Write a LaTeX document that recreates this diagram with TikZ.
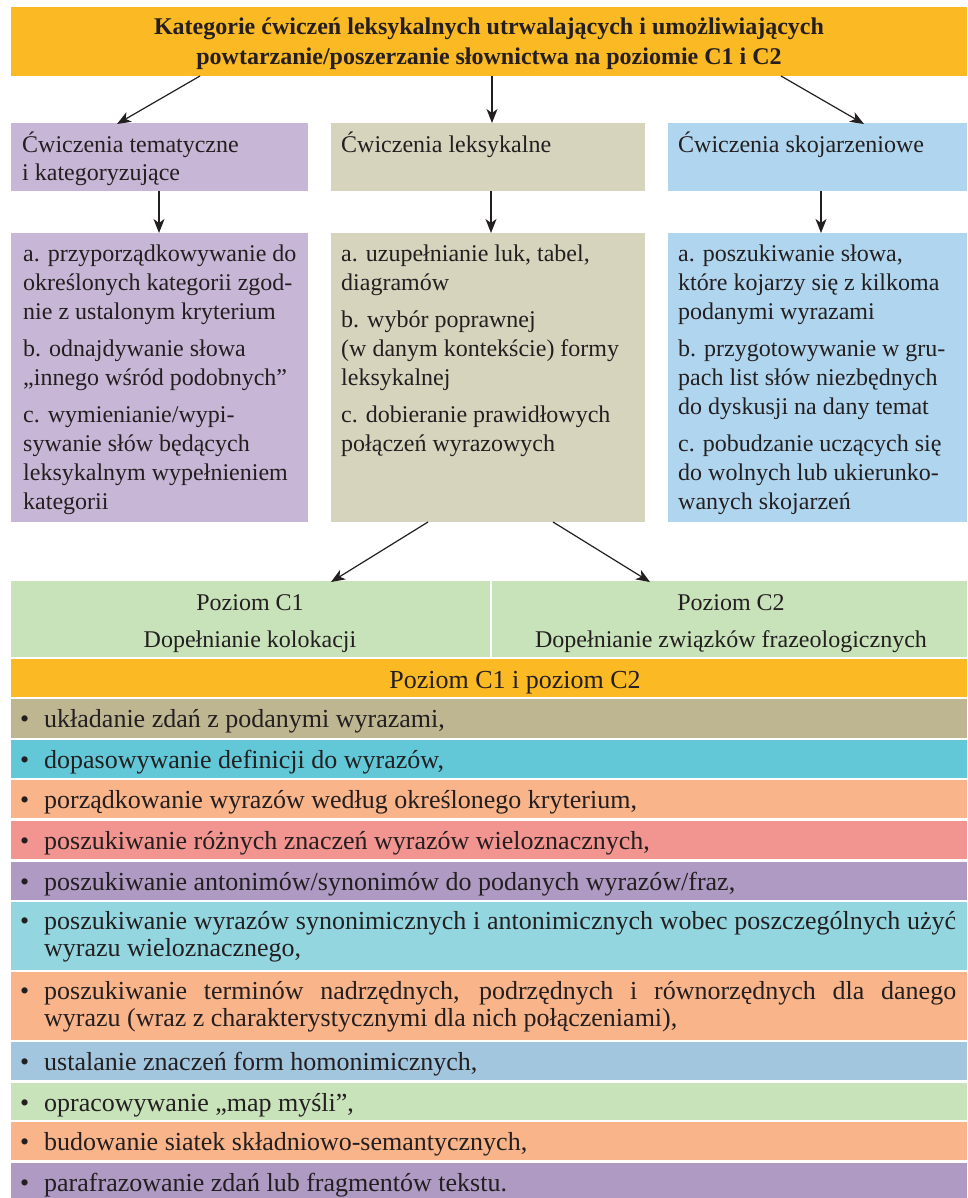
\documentclass[tikz,border=0pt]{standalone}
\usepackage{fontspec}
\setmainfont{Liberation Serif}
\usetikzlibrary{arrows.meta,calc}
\definecolor{orangeC}{RGB}{251,185,36}
\definecolor{lilacC}{RGB}{200,182,214}
\definecolor{khakiL}{RGB}{214,212,189}
\definecolor{skyC}{RGB}{176,213,238}
\definecolor{greenC}{RGB}{200,226,186}
\definecolor{khakiD}{RGB}{190,181,145}
\definecolor{cyanC}{RGB}{98,200,216}
\definecolor{peachC}{RGB}{249,180,138}
\definecolor{salmonC}{RGB}{242,148,144}
\definecolor{purpleC}{RGB}{175,154,195}
\definecolor{cyanL}{RGB}{148,214,224}
\definecolor{blueC}{RGB}{163,198,223}
\definecolor{inkC}{RGB}{35,31,32}
\begin{document}
\begin{tikzpicture}[x=1pt,y=-1pt,
  cell/.style={inner sep=0pt, outer sep=0pt, anchor=north west, draw=none},
  arr/.style={draw=inkC, line width=1.2pt, -{Stealth[length=14pt,width=11pt,inset=4pt]}},
  titletext/.style={inner sep=0pt, anchor=base, align=center, text=inkC, font=\bfseries\fontsize{24}{30}\selectfont},
  headtext/.style={inner sep=0pt, anchor=base west, align=left, text=inkC, font=\fontsize{24}{28}\selectfont},
  coltext/.style={inner sep=0pt, anchor=base west, align=left, text=inkC, font=\fontsize{24}{29}\selectfont},
  greentext/.style={inner sep=0pt, anchor=base, align=center, text=inkC, font=\fontsize{24}{37}\selectfont},
  rowtext/.style={inner sep=0pt, anchor=base west, align=left, text=inkC, font=\fontsize{26}{27.5}\selectfont},
]
\fill[white] (0,0) rectangle (967,1198);
\useasboundingbox (0,0) rectangle (967,1198);
% title (multi-line nodes are anchored at the baseline of their last line)
\node[cell, fill=orangeC, minimum width=956pt, minimum height=69pt] (top) at (11,7) {};
\node[titletext] (topt) at (489,65) {Kategorie ćwiczeń leksykalnych utrwalających i umożliwiających\\powtarzanie/poszerzanie słownictwa na poziomie C1 i C2};
% headings
\node[cell, fill=lilacC, minimum width=297pt, minimum height=68pt] (h1) at (11,123) {};
\node[cell, fill=khakiL, minimum width=314pt, minimum height=68pt] (h2) at (331,123) {};
\node[cell, fill=skyC, minimum width=299pt, minimum height=68pt] (h3) at (668,123) {};
\node[headtext] (h1t) at (22,181) {Ćwiczenia tematyczne\\i kategoryzujące};
\node[headtext] (h2t) at (341,153) {Ćwiczenia leksykalne};
\node[headtext] (h3t) at (678,153) {Ćwiczenia skojarzeniowe};
% columns
\node[cell, fill=lilacC, minimum width=297pt, minimum height=289pt] (c1) at (11,233) {};
\node[cell, fill=khakiL, minimum width=314pt, minimum height=289pt] (c2) at (331,233) {};
\node[cell, fill=skyC, minimum width=299pt, minimum height=289pt] (c3) at (668,233) {};
\node[coltext] (c1t) at (23,509) {a. przyporządkowywanie do\\
określonych kategorii zgod-\\
nie z ustalonym kryterium\\[8pt]
b. odnajdywanie słowa\\
„innego wśród podobnych”\\[8pt]
c. wymienianie/wypi-\\
sywanie słów będących\\
leksykalnym wypełnieniem\\
kategorii};
\node[coltext] (c2t) at (341,451) {a. uzupełnianie luk, tabel,\\
diagramów\\[8pt]
b. wybór poprawnej\\
(w danym kontekście) formy\\
leksykalnej\\[8pt]
c. dobieranie prawidłowych\\
połączeń wyrazowych};
\node[coltext] (c3t) at (678,509) {a. poszukiwanie słowa,\\
które kojarzy się z kilkoma\\
podanymi wyrazami\\[8pt]
b. przygotowywanie w gru-\\
pach list słów niezbędnych\\
do dyskusji na dany temat\\[8pt]
c. pobudzanie uczących się\\
do wolnych lub ukierunko-\\
wanych skojarzeń};
% levels
\node[cell, fill=greenC, minimum width=479pt, minimum height=76pt] (g1) at (11,581) {};
\node[cell, fill=greenC, minimum width=475pt, minimum height=76pt] (g2) at (492,581) {};
\node[greentext] (g1t) at (250,647) {Poziom C1\\Dopełnianie kolokacji};
\node[greentext] (g2t) at (731,647) {Poziom C2\\Dopełnianie związków frazeologicznych};
\node[cell, fill=orangeC, minimum width=956pt, minimum height=38pt] (both) at (11,659) {};
\node[rowtext, anchor=base] (botht) at (515,688) {Poziom C1 i poziom C2};
% rows
\node[cell, fill=khakiD, minimum width=956pt, minimum height=39pt] (r1) at (11,699) {};
\node[cell, fill=cyanC, minimum width=956pt, minimum height=38pt] (r2) at (11,740) {};
\node[cell, fill=peachC, minimum width=956pt, minimum height=38pt] (r3) at (11,780) {};
\node[cell, fill=salmonC, minimum width=956pt, minimum height=38pt] (r4) at (11,821) {};
\node[cell, fill=purpleC, minimum width=956pt, minimum height=38pt] (r5) at (11,862) {};
\node[cell, fill=cyanL, minimum width=956pt, minimum height=68pt] (r6) at (11,902) {};
\node[cell, fill=peachC, minimum width=956pt, minimum height=68pt] (r7) at (11,972) {};
\node[cell, fill=blueC, minimum width=956pt, minimum height=38pt] (r8) at (11,1042) {};
\node[cell, fill=greenC, minimum width=956pt, minimum height=37pt] (r9) at (11,1083) {};
\node[cell, fill=peachC, minimum width=956pt, minimum height=38pt] (r10) at (11,1122) {};
\node[cell, fill=purpleC, minimum width=956pt, minimum height=35pt] (r11) at (11,1163) {};
\foreach \i/\yb in {1/727,2/768,3/808,4/849,5/890,6/929,7/999,8/1070,9/1111,10/1150,11/1191}
  \node[rowtext] (b\i) at (20,\yb) {•};
\node[rowtext] (r1t) at (44,727) {układanie zdań z podanymi wyrazami,};
\node[rowtext] (r2t) at (44,768) {dopasowywanie definicji do wyrazów,};
\node[rowtext] (r3t) at (44,808) {porządkowanie wyrazów według określonego kryterium,};
\node[rowtext] (r4t) at (44,849) {poszukiwanie różnych znaczeń wyrazów wieloznacznych,};
\node[rowtext] (r5t) at (44,890) {poszukiwanie antonimów/synonimów do podanych wyrazów/fraz,};
\node[rowtext] (r6t) at (44,956.5) {\makebox[912pt][s]{poszukiwanie wyrazów synonimicznych i antonimicznych wobec poszczególnych użyć}\\wyrazu wieloznacznego,};
\node[rowtext] (r7t) at (44,1026.5) {\makebox[912pt][s]{poszukiwanie terminów nadrzędnych, podrzędnych i równorzędnych dla danego}\\wyrazu (wraz z charakterystycznymi dla nich połączeniami),};
\node[rowtext] (r8t) at (44,1070) {ustalanie znaczeń form homonimicznych,};
\node[rowtext] (r9t) at (44,1111) {opracowywanie „map myśli”,};
\node[rowtext] (r10t) at (44,1150) {budowanie siatek składniowo-semantycznych,};
\node[rowtext] (r11t) at (44,1191) {parafrazowanie zdań lub fragmentów tekstu.};
% arrows
\draw[arr] ($(top.south west)+(189,0)$) -- ($(h1.north west)+(106,1)$);
\draw[arr] ($(top.south west)+(481,0)$) -- ($(h2.north west)+(161,0)$);
\draw[arr] ($(top.south west)+(770,0)$) -- ($(h3.north west)+(196,1)$);
\draw[arr] ($(h1.south west)+(148,0)$) -- ($(c1.north west)+(148,0)$);
\draw[arr] ($(h2.south west)+(160,0)$) -- ($(c2.north west)+(160,0)$);
\draw[arr] ($(h3.south west)+(153,0)$) -- ($(c3.north west)+(153,0)$);
\draw[arr] ($(c2.south west)+(97,0)$) -- ($(g1.north west)+(320,1)$);
\draw[arr] ($(c2.south west)+(222,0)$) -- ($(g2.north west)+(158,1)$);
\end{tikzpicture}
\end{document}
